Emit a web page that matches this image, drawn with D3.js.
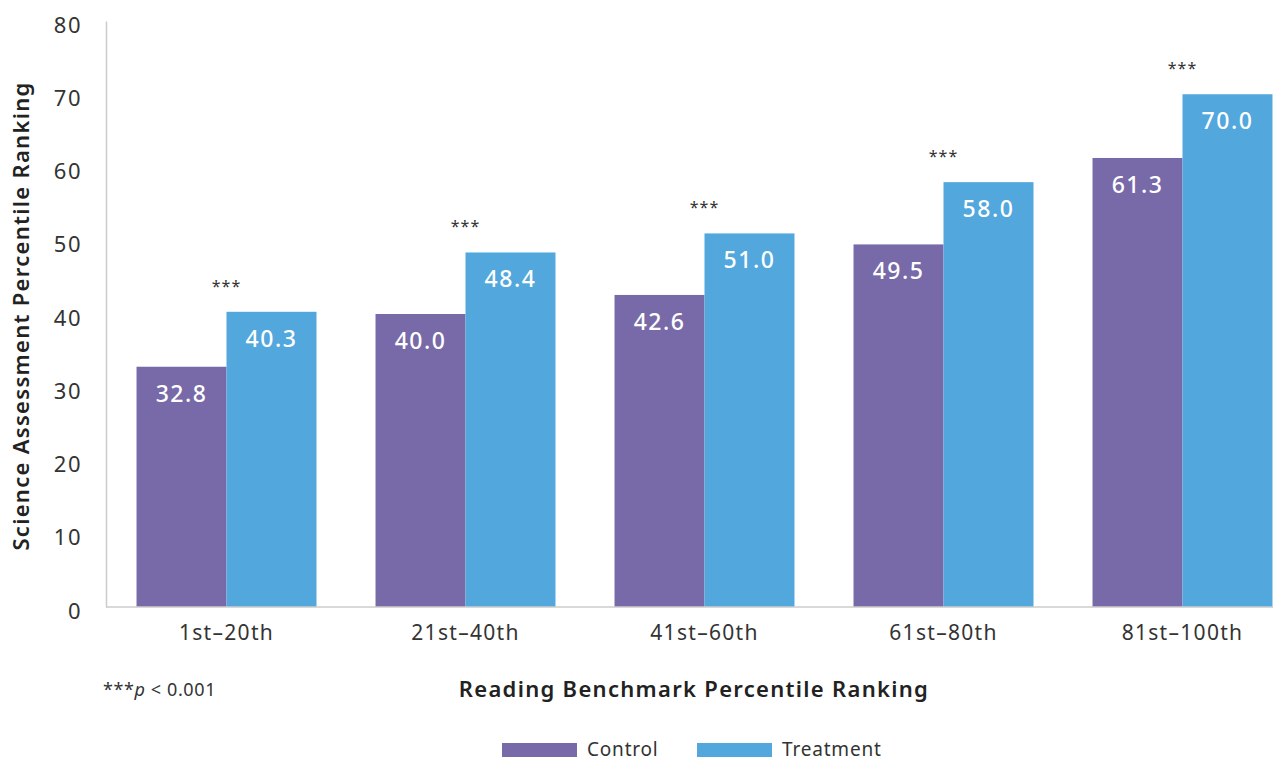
<!DOCTYPE html>
<html>
<head>
<meta charset="utf-8">
<script src="https://cdnjs.cloudflare.com/ajax/libs/d3/7.8.5/d3.min.js"></script>
<style>
  body { margin: 0; background: #fff; }
  svg { display: block; font-family: "Noto Sans", sans-serif; }
</style>
</head>
<body>
<div id="chart"></div>
<script>
(function () {
  const categories = ['1st\u201320th', '21st\u201340th', '41st\u201360th', '61st\u201380th', '81st\u2013100th'];
  const control = [32.8, 40.0, 42.6, 49.5, 61.3];
  const treatment = [40.3, 48.4, 51.0, 58.0, 70.0];
  const yTicks = [0, 10, 20, 30, 40, 50, 60, 70, 80];
  const seriesNames = ['Control', 'Treatment'];
  const colors = ['#786aa8', '#52a7dd'];

  const w = 1273;
  const h = 761;

  const dataset = categories.map((c, i) => ({ cat: c, vals: [control[i], treatment[i]] }));

  const xScale = d3.scaleBand()
    .domain(categories)
    .range([107, 1302])
    .paddingInner(0.247)
    .paddingOuter(0.1235);

  const xSub = d3.scaleBand()
    .domain(seriesNames)
    .range([0, xScale.bandwidth()]);

  const yScale = d3.scaleLinear()
    .domain([0, 80])
    .range([607, 21]);

  const svg = d3.select('#chart')
    .append('svg')
    .attr('width', w)
    .attr('height', h);

  // bars
  const groups = svg.selectAll('g.group')
    .data(dataset)
    .enter()
    .append('g')
    .attr('class', 'group')
    .attr('transform', (d) => 'translate(' + xScale(d.cat) + ',0)');

  groups.selectAll('rect')
    .data((d) => d.vals.map((v, j) => ({ name: seriesNames[j], v: v, j: j })))
    .enter()
    .append('rect')
    .attr('x', (d) => xSub(d.name))
    .attr('y', (d) => yScale(d.v))
    .attr('width', xSub.bandwidth())
    .attr('height', (d) => yScale(0) - yScale(d.v))
    .attr('fill', (d) => colors[d.j]);

  groups.selectAll('text.val')
    .data((d) => d.vals.map((v, j) => ({ name: seriesNames[j], v: v })))
    .enter()
    .append('text')
    .attr('class', 'val')
    .attr('x', (d) => xSub(d.name) + xSub.bandwidth() / 2)
    .attr('y', (d) => yScale(d.v) + 35)
    .attr('text-anchor', 'middle')
    .attr('fill', '#fff')
    .attr('font-size', 23)
    .attr('font-weight', 500)
    .attr('letter-spacing', 1.5)
    .text((d) => d.v.toFixed(1));

  // significance stars
  groups.append('text')
    .attr('x', xScale.bandwidth() / 2)
    .attr('y', (d) => yScale(d.vals[1]) - 20)
    .attr('text-anchor', 'middle')
    .attr('fill', '#333')
    .attr('font-size', 16)
    .attr('letter-spacing', 1)
    .text('***');

  // axes
  const xAxis = d3.axisBottom(xScale).tickSize(0).tickPadding(18);
  const yAxis = d3.axisLeft(yScale).tickValues(yTicks).tickSize(0).tickPadding(24);

  const gx = svg.append('g')
    .attr('id', 'x-axis')
    .attr('transform', 'translate(0,' + yScale(0) + ')')
    .call(xAxis);
  gx.select('.domain').remove();
  gx.append('line')
    .attr('x1', 106).attr('x2', w)
    .attr('y1', 0).attr('y2', 0)
    .attr('stroke', '#cccccc').attr('stroke-width', 1.5);
  gx.selectAll('text')
    .attr('font-size', 21)
    .attr('letter-spacing', 1.3)
    .attr('fill', '#333')
    .attr('font-family', '"Noto Sans", sans-serif');

  const gy = svg.append('g')
    .attr('id', 'y-axis')
    .attr('transform', 'translate(106,0)')
    .call(yAxis);
  gy.select('.domain')
    .attr('stroke', '#cccccc').attr('stroke-width', 1.5);
  gy.selectAll('text')
    .attr('font-size', 22)
    .attr('letter-spacing', 1.5)
    .attr('fill', '#333')
    .attr('dy', '0.5em')
    .attr('font-family', '"Noto Sans", sans-serif');

  // axis titles
  svg.append('text')
    .attr('x', 694)
    .attr('y', 697)
    .attr('text-anchor', 'middle')
    .attr('font-size', 22)
    .attr('font-weight', 600)
    .attr('letter-spacing', 1.3)
    .attr('fill', '#222')
    .text('Reading Benchmark Percentile Ranking');

  svg.append('text')
    .attr('transform', 'translate(29,316) rotate(-90)')
    .attr('text-anchor', 'middle')
    .attr('font-size', 22)
    .attr('font-weight', 600)
    .attr('letter-spacing', 1.3)
    .attr('fill', '#222')
    .text('Science Assessment Percentile Ranking');

  // footnote
  const note = svg.append('text')
    .attr('x', 103)
    .attr('y', 696)
    .attr('font-size', 18)
    .attr('letter-spacing', 0.6)
    .attr('fill', '#333');
  note.append('tspan').text('***');
  note.append('tspan').attr('font-style', 'italic').text('p');
  note.append('tspan').text(' < 0.001');

  // legend
  const legendX = [502, 697];
  const legend = svg.selectAll('g.legend')
    .data(seriesNames)
    .enter()
    .append('g')
    .attr('class', 'legend')
    .attr('transform', (d, i) => 'translate(' + legendX[i] + ',743)');
  legend.append('rect')
    .attr('width', 75)
    .attr('height', 14)
    .attr('fill', (d, i) => colors[i]);
  legend.append('text')
    .attr('x', 85)
    .attr('y', 13)
    .attr('font-size', 19)
    .attr('letter-spacing', 0.8)
    .attr('fill', '#333')
    .text((d) => d);
})();
</script>
</body>
</html>
